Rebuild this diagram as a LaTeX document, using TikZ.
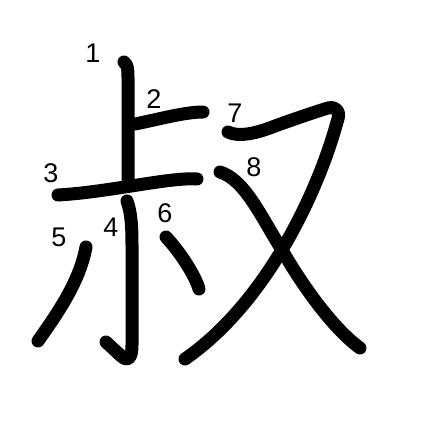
\documentclass[tikz,border=0pt]{standalone}
\usepackage{fontspec}
\setmainfont{Liberation Sans}
\tikzset{
  brush/.style={line width=13pt, line cap=round, line join=round, black},
  num/.style={font=\fontsize{27}{27}\selectfont, inner sep=0pt, anchor=center}
}
\begin{document}
\begin{tikzpicture}[x=1pt,y=-1pt]
\useasboundingbox[fill=white] (0,0) rectangle (447,447);
% stroke 1
\draw[brush] (124,62) .. controls (128,65) and (128,70) .. (128,78) -- (128,183);
% stroke 2
\draw[brush] (135,124) .. controls (160,119) and (185,112) .. (203,112);
% stroke 3
\draw[brush] (58,195) .. controls (110,192) and (170,177) .. (197,179);
% stroke 4
\draw[brush] (127,201) .. controls (131,212) and (132,225) .. (132,245) -- (132,345) .. controls (132,360) and (127,362) .. (120,355) -- (106,342);
% stroke 5
\draw[brush] (86,247) .. controls (80,280) and (60,310) .. (38,341);
% stroke 6
\draw[brush] (166,237) .. controls (180,252) and (195,275) .. (199,289);
% stroke 7
\draw[brush] (228,132) .. controls (238,137) and (255,134) .. (275,126) .. controls (300,117) and (318,111) .. (328,108) .. controls (337,106) and (341,112) .. (337,122) .. controls (320,185) and (270,300) .. (185,359);
% stroke 8
\draw[brush] (220,172) .. controls (245,180) and (260,215) .. (282,250) .. controls (305,290) and (335,330) .. (360,348);
% numbers
\node[num] (n1) at (93,53) {1};
\node[num] (n2) at (154,99) {2};
\node[num] (n3) at (51,173) {3};
\node[num] (n4) at (111,227) {4};
\node[num] (n5) at (59,237) {5};
\node[num] (n6) at (165,213) {6};
\node[num] (n7) at (235,113) {7};
\node[num] (n8) at (254,167) {8};
\end{tikzpicture}
\end{document}
